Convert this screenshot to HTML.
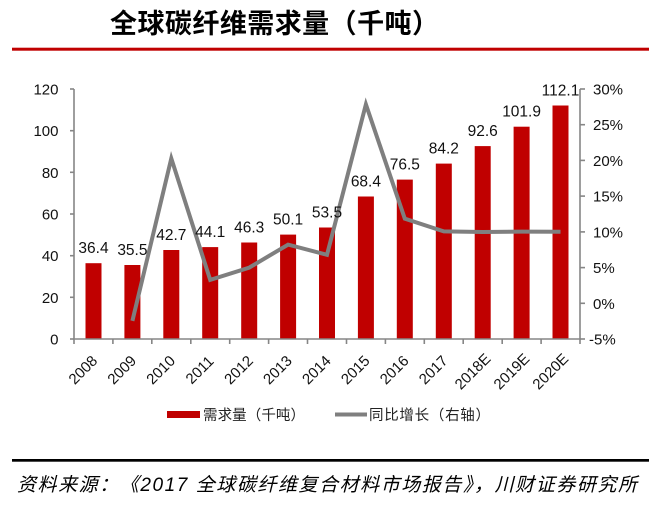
<!DOCTYPE html>
<html><head><meta charset="utf-8"><style>
html,body{margin:0;padding:0;background:#fff;}
svg{display:block;}
.t{font-family:"Liberation Sans","Noto Sans CJK SC",sans-serif;font-size:15px;fill:#111;}
.d{font-family:"Liberation Sans",sans-serif;font-size:15.5px;fill:#111;}
.cj{font-family:"Liberation Sans","Noto Sans CJK SC",sans-serif;}
</style></head><body>
<svg width="652" height="509" viewBox="0 0 652 509" xmlns="http://www.w3.org/2000/svg">
<text x="110" y="33" class="cj" font-size="27" font-weight="bold" fill="#000" textLength="329" lengthAdjust="spacing">全球碳纤维需求量（千吨）</text>
<rect x="12" y="47.7" width="637" height="3" fill="#C00000"/>

<!-- bars -->
<g fill="#C00000">
<rect x="85.5" y="263.2" width="16" height="75.8"/>
<rect x="124.4" y="265.0" width="16" height="74.0"/>
<rect x="163.3" y="250.0" width="16" height="89.0"/>
<rect x="202.2" y="247.1" width="16" height="91.9"/>
<rect x="241.2" y="242.5" width="16" height="96.5"/>
<rect x="280.1" y="234.6" width="16" height="104.4"/>
<rect x="319.0" y="227.5" width="16" height="111.5"/>
<rect x="357.9" y="196.5" width="16" height="142.5"/>
<rect x="396.8" y="179.6" width="16" height="159.4"/>
<rect x="435.8" y="163.6" width="16" height="175.4"/>
<rect x="474.7" y="146.1" width="16" height="192.9"/>
<rect x="513.6" y="126.7" width="16" height="212.3"/>
<rect x="552.5" y="105.5" width="16" height="233.5"/>
</g>

<!-- axes -->
<g stroke="#868686" stroke-width="1.6" fill="none">
<line x1="74" y1="89" x2="74" y2="339.5"/>
<line x1="580" y1="89" x2="580" y2="339.5"/>
<line x1="73" y1="339" x2="581" y2="339"/>
<line x1="70" y1="89" x2="74" y2="89"/>
<line x1="70" y1="130.7" x2="74" y2="130.7"/>
<line x1="70" y1="172.3" x2="74" y2="172.3"/>
<line x1="70" y1="214" x2="74" y2="214"/>
<line x1="70" y1="255.7" x2="74" y2="255.7"/>
<line x1="70" y1="297.3" x2="74" y2="297.3"/>
<line x1="70" y1="339" x2="74" y2="339"/>
<line x1="580" y1="89" x2="585" y2="89"/>
<line x1="580" y1="124.7" x2="585" y2="124.7"/>
<line x1="580" y1="160.4" x2="585" y2="160.4"/>
<line x1="580" y1="196.1" x2="585" y2="196.1"/>
<line x1="580" y1="231.9" x2="585" y2="231.9"/>
<line x1="580" y1="267.6" x2="585" y2="267.6"/>
<line x1="580" y1="303.3" x2="585" y2="303.3"/>
<line x1="580" y1="339" x2="585" y2="339"/>
<line x1="74" y1="339" x2="74" y2="344"/>
<line x1="112.9" y1="339" x2="112.9" y2="344"/>
<line x1="151.8" y1="339" x2="151.8" y2="344"/>
<line x1="190.8" y1="339" x2="190.8" y2="344"/>
<line x1="229.7" y1="339" x2="229.7" y2="344"/>
<line x1="268.6" y1="339" x2="268.6" y2="344"/>
<line x1="307.5" y1="339" x2="307.5" y2="344"/>
<line x1="346.5" y1="339" x2="346.5" y2="344"/>
<line x1="385.4" y1="339" x2="385.4" y2="344"/>
<line x1="424.3" y1="339" x2="424.3" y2="344"/>
<line x1="463.2" y1="339" x2="463.2" y2="344"/>
<line x1="502.2" y1="339" x2="502.2" y2="344"/>
<line x1="541.1" y1="339" x2="541.1" y2="344"/>
<line x1="580" y1="339" x2="580" y2="344"/>
</g>

<!-- left labels -->
<g class="t" text-anchor="end">
<text x="58.5" y="94.5">120</text>
<text x="58.5" y="136.2">100</text>
<text x="58.5" y="177.8">80</text>
<text x="58.5" y="219.5">60</text>
<text x="58.5" y="261.2">40</text>
<text x="58.5" y="302.8">20</text>
<text x="58.5" y="344.5">0</text>
</g>
<!-- right labels -->
<g class="t" text-anchor="start">
<text x="593" y="94.5">30%</text>
<text x="593" y="130.2">25%</text>
<text x="593" y="165.9">20%</text>
<text x="593" y="201.6">15%</text>
<text x="593" y="237.4">10%</text>
<text x="593" y="273.1">5%</text>
<text x="593" y="308.8">0%</text>
<text x="589" y="344.5">-5%</text>
</g>

<!-- line -->
<polyline fill="none" stroke="#7F7F7F" stroke-width="4" stroke-linejoin="miter" points="132.4,320.9 171.3,158.4 210.2,279.9 249.2,267.6 288.1,244.6 327,254.8 365.9,104.4 404.8,218.7 443.8,231.4 482.7,232 521.6,231.6 560.5,231.8"/>

<!-- data labels -->
<g class="d" text-anchor="middle">
<text x="93.5" y="253">36.4</text>
<text x="132.4" y="255">35.5</text>
<text x="171.3" y="240">42.7</text>
<text x="210.2" y="237">44.1</text>
<text x="249.2" y="232.5">46.3</text>
<text x="288.1" y="224.6">50.1</text>
<text x="327" y="217.5">53.5</text>
<text x="365.9" y="186.5">68.4</text>
<text x="404.8" y="169.6">76.5</text>
<text x="443.8" y="153.6">84.2</text>
<text x="482.7" y="136.1">92.6</text>
<text x="521.6" y="116.7">101.9</text>
<text x="560.5" y="95.5">112.1</text>
</g>

<!-- x labels -->
<g class="t" text-anchor="middle">
<text transform="translate(86.5,373.5) rotate(-45)">2008</text>
<text transform="translate(125.4,373.5) rotate(-45)">2009</text>
<text transform="translate(164.3,373.5) rotate(-45)">2010</text>
<text transform="translate(203.2,373.5) rotate(-45)">2011</text>
<text transform="translate(242.2,373.5) rotate(-45)">2012</text>
<text transform="translate(281.1,373.5) rotate(-45)">2013</text>
<text transform="translate(320,373.5) rotate(-45)">2014</text>
<text transform="translate(358.9,373.5) rotate(-45)">2015</text>
<text transform="translate(397.8,373.5) rotate(-45)">2016</text>
<text transform="translate(436.8,373.5) rotate(-45)">2017</text>
<text transform="translate(476.2,375) rotate(-45)">2018E</text>
<text transform="translate(515.1,375) rotate(-45)">2019E</text>
<text transform="translate(554,375) rotate(-45)">2020E</text>
</g>

<!-- legend -->
<rect x="167" y="411" width="33" height="7" fill="#C00000"/>
<text x="203" y="420" class="cj" font-size="14.5" fill="#222" textLength="102" lengthAdjust="spacing">需求量（千吨）</text>
<line x1="335" y1="414.5" x2="367" y2="414.5" stroke="#7F7F7F" stroke-width="4"/>
<text x="369" y="420" class="cj" font-size="14.5" fill="#222" textLength="121" lengthAdjust="spacing">同比增长（右轴）</text>

<rect x="12" y="459" width="637" height="2.7" fill="#000"/>
<text x="17" y="491" class="cj" font-size="19" font-style="italic" fill="#000" textLength="620" lengthAdjust="spacing">资料来源：《2017 全球碳纤维复合材料市场报告》，川财证券研究所</text>
</svg>
</body></html>
